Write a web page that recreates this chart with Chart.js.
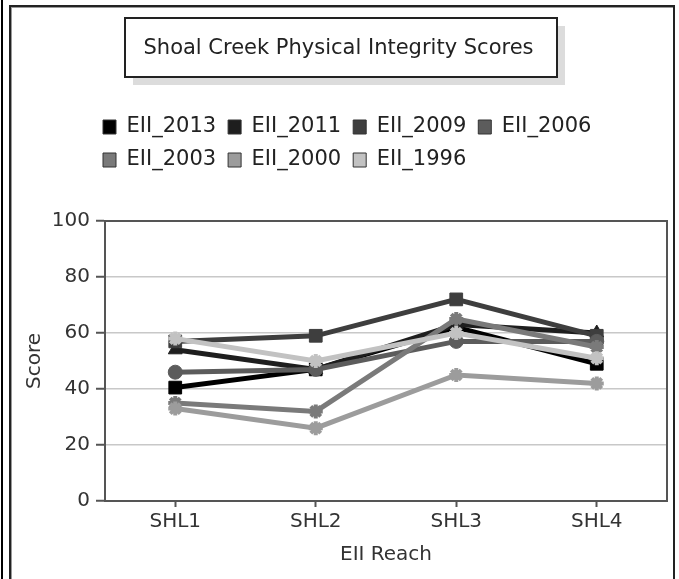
<!DOCTYPE html>
<html>
<head>
<meta charset="utf-8">
<script src="https://cdn.jsdelivr.net/npm/chart.js@4.4.1/dist/chart.umd.min.js"></script>
<style>
  html, body { margin: 0; padding: 0; background: #fff; }
  #wrap { position: relative; width: 679px; height: 579px; overflow: hidden; }
  #edge { position: absolute; left: 1px; top: 0; width: 2px; height: 579px; background: #000; }
  #frame { position: absolute; left: 9px; top: 5px; width: 662px; height: 600px; border: 2px solid #222; box-shadow: inset 1px 1px 0 #999; }
  canvas { position: absolute; left: 0; top: 0; }
</style>
</head>
<body>
<div id="wrap">
  <div id="edge"></div>
  <div id="frame"></div>
  <canvas id="c" width="679" height="579"></canvas>
</div>
<script>
const categories = ['SHL1', 'SHL2', 'SHL3', 'SHL4'];
const seriesNames = ['EII_2013', 'EII_2011', 'EII_2009', 'EII_2006', 'EII_2003', 'EII_2000', 'EII_1996'];
const eii2013 = [40.5, 47, 62, 49];
const eii2011 = [54, 47, 63, 60];
const eii2009 = [57, 59, 72, 59];
const eii2006 = [46, 47, 57, 57];
const eii2003 = [35, 32, 65, 55];
const eii2000 = [33, 26, 45, 42];
const eii1996 = [58, 50, 60, 51];
const yTicks = [0, 20, 40, 60, 80, 100];

const seriesValues = [eii2013, eii2011, eii2009, eii2006, eii2003, eii2000, eii1996];
const colors = ['#000000', '#1e1e1e', '#3e3e3e', '#5c5c5c', '#7a7a7a', '#9c9c9c', '#c2c2c2'];
const shapes = ['rect', 'triangle', 'rect', 'circle', 'star', 'star', 'star'];
const radii = [9, 8, 9, 7, 7, 7, 7];

const FONT = 'DejaVu Sans';

const datasets = seriesValues.map((vals, i) => ({
  label: seriesNames[i],
  data: vals,
  borderColor: colors[i],
  backgroundColor: colors[i],
  borderWidth: 5,
  pointStyle: shapes[i],
  pointRadius: radii[i],
  pointBorderWidth: shapes[i] === 'star' ? 4 : 1,
  pointBackgroundColor: colors[i],
  pointBorderColor: colors[i],
  tension: 0,
  order: seriesValues.length - 1 - i
}));

const titleBox = {
  id: 'titleBox',
  beforeDraw(chart) {
    const ctx = chart.ctx;
    ctx.save();
    ctx.fillStyle = '#dcdcdc';
    ctx.fillRect(133, 26, 432, 59);
    ctx.fillStyle = '#ffffff';
    ctx.fillRect(125, 18, 432, 59);
    ctx.strokeStyle = '#222';
    ctx.lineWidth = 2;
    ctx.strokeRect(125, 18, 432, 59);
    ctx.restore();
    const lg = chart.legend;
    const shift = 103 - 12 - lg.left;
    lg.left += shift;
    lg.right += shift;
  },
  afterDraw(chart) {
    const {ctx, chartArea: a} = chart;
    ctx.save();
    ctx.strokeStyle = '#555';
    ctx.lineWidth = 2;
    ctx.beginPath();
    ctx.moveTo(a.left, a.top);
    ctx.lineTo(a.right, a.top);
    ctx.lineTo(a.right, a.bottom);
    ctx.stroke();
    ctx.restore();
  }
};

const legendGap = {
  id: 'legendGap',
  afterInit(chart) {
    const lg = chart.legend;
    const f = lg.fit;
    lg.fit = function() { f.call(this); this.height += 40.5; };
  }
};

new Chart(document.getElementById('c'), {
  type: 'line',
  data: { labels: categories, datasets },
  plugins: [legendGap, titleBox],
  options: {
    responsive: false,
    animation: false,
    events: [],
    layout: { padding: { left: 10, right: 12, top: 0, bottom: 6 } },
    plugins: {
      tooltip: { enabled: false },
      title: {
        display: true,
        text: 'Shoal Creek Physical Integrity Scores',
        color: '#222',
        font: { family: FONT, size: 21, weight: 'normal' },
        padding: { top: 35.5, bottom: 43.8 }
      },
      legend: {
        display: true,
        fullSize: false,
        position: 'top',
        align: 'start',
        labels: {
          font: { family: FONT, size: 21 },
          color: '#222',
          boxWidth: 13,
          boxHeight: 14,
          padding: 12,
          sort: (a, b) => a.datasetIndex - b.datasetIndex,
          generateLabels(chart) {
            const items = Chart.defaults.plugins.legend.labels.generateLabels(chart);
            return items.map(it => Object.assign(it, { lineWidth: 1, strokeStyle: '#333', lineDash: [], lineCap: 'butt' }));
          }
        }
      }
    },
    scales: {
      x: {
        type: 'category',
        offset: true,
        border: { display: true, color: '#555', width: 2 },
        grid: { display: true, drawOnChartArea: false, drawTicks: true, tickLength: 6, offset: false, tickColor: '#555', tickWidth: 2 },
        ticks: { color: '#333', font: { family: FONT, size: 20 }, padding: 3 },
        title: { display: true, text: 'EII Reach', color: '#333', font: { family: FONT, size: 20 }, padding: { top: 6, bottom: 6 } }
      },
      y: {
        min: 0,
        max: 100,
        afterBuildTicks(scale) { scale.ticks = yTicks.map(v => ({ value: v })); },
        afterFit(scale) { scale.width = 95; },
        border: { display: true, color: '#555', width: 2 },
        grid: { color: '#c8c8c8', lineWidth: 1.5, drawTicks: true, tickLength: 9, tickColor: '#555', tickWidth: 2 },
        ticks: { color: '#333', font: { family: FONT, size: 20 }, padding: 6 },
        title: { display: true, text: 'Score', color: '#333', font: { family: FONT, size: 20 }, padding: { top: 13, bottom: 0 } }
      }
    }
  }
});
</script>
</body>
</html>
